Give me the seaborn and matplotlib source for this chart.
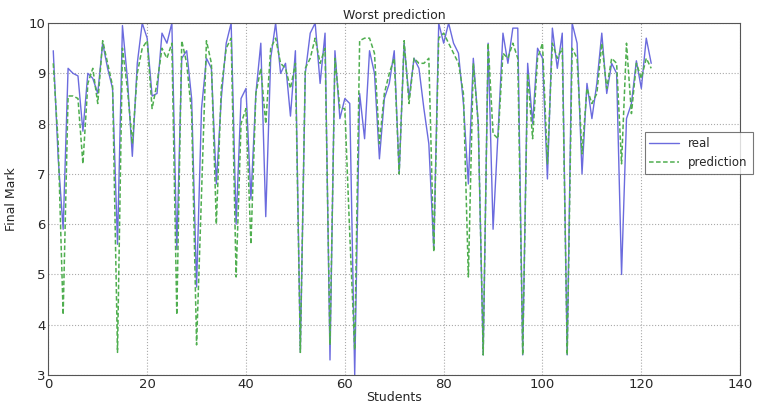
import numpy as np
import pandas as pd
import matplotlib
matplotlib.use("Agg")
import matplotlib.pyplot as plt
import seaborn as sns

# final marks per student
real = [9.45, 7.3, 5.9, 9.1, 9.0, 8.95, 7.85, 9.0, 8.9, 8.6,
        9.6, 9.1, 8.7, 5.6, 9.95, 8.9, 7.35, 9.2, 10.0, 9.7,
        8.55, 8.6, 9.8, 9.6, 10.0, 5.5, 9.3, 9.45, 8.5, 4.75,
        8.3, 9.3, 9.1, 6.8, 8.5, 9.6, 10.0, 6.0, 8.5, 8.7,
        6.5, 8.6, 9.6, 6.15, 9.3, 10.0, 9.0, 9.2, 8.15, 9.45,
        3.45, 9.0, 9.8, 10.0, 8.8, 9.8, 3.3, 9.45, 8.1, 8.5,
        8.4, 3.0, 8.6, 7.7, 9.45, 9.0, 7.3, 8.5, 8.8, 9.45,
        7.0, 9.6, 8.5, 9.3, 9.1, 8.3, 7.6, 5.5, 10.0, 9.6,
        10.0, 9.6, 9.4, 8.4, 6.8, 9.3, 8.0, 3.4, 9.6, 5.9,
        7.8, 9.8, 9.2, 9.9, 9.9, 3.4, 9.2, 8.0, 9.5, 9.3,
        6.9, 9.9, 9.1, 9.8, 3.4, 10.0, 9.6, 7.0, 8.8, 8.1,
        8.8, 9.8, 8.6, 9.2, 9.0, 5.0, 8.1, 8.4, 9.25, 8.7,
        9.7, 9.2]
prediction = [9.2, 7.6, 4.2, 8.55, 8.55, 8.5, 7.2, 8.8, 9.1, 8.4,
              9.65, 9.2, 8.75, 3.45, 9.5, 8.7, 7.6, 9.0, 9.5, 9.65,
              8.3, 8.8, 9.5, 9.3, 9.6, 4.2, 9.65, 9.2, 8.2, 3.6,
              6.6, 9.65, 9.2, 6.0, 8.7, 9.5, 9.7, 4.95, 8.0, 8.3,
              5.6, 8.6, 9.1, 8.0, 9.5, 9.7, 9.2, 9.1, 8.7, 9.2,
              3.45, 9.1, 9.3, 9.7, 9.2, 9.5, 3.6, 9.3, 8.3, 8.3,
              5.8, 3.5, 9.65, 9.7, 9.7, 9.4, 7.6, 8.6, 9.0, 9.3,
              7.0, 9.65, 8.4, 9.3, 9.2, 9.2, 9.3, 5.45, 9.7, 9.8,
              9.6, 9.4, 9.2, 8.6, 4.95, 9.2, 8.0, 3.4, 9.6, 7.8,
              7.7, 9.4, 9.3, 9.6, 9.3, 3.4, 9.0, 7.7, 9.3, 9.6,
              7.2, 9.6, 9.3, 9.5, 3.4, 9.5, 9.3, 7.4, 8.7, 8.4,
              8.6, 9.6, 8.7, 9.3, 9.2, 7.2, 9.6, 8.2, 9.2, 8.9,
              9.3, 9.1]
students = np.arange(1, len(real) + 1)

df = pd.DataFrame({"student": students, "real": real, "prediction": prediction})

sns.set_style("white")
plt.rcParams["font.family"] = ["DejaVu Sans"]

fig = plt.figure(figsize=(7.67, 4.05), dpi=100)
ax = fig.add_axes([0.063, 0.074, 0.902, 0.869])

sns.lineplot(data=df, x="student", y="real", ax=ax, color="#6b6bde", lw=1.0, label="real")
sns.lineplot(data=df, x="student", y="prediction", ax=ax, color="#4fae4f", lw=1.1,
             dashes=False, label="prediction")
ax.lines[1].set_dashes((3, 1.6))

ax.set_xlim(0, 140); ax.set_ylim(3, 10)
ax.set_xticks(range(0, 141, 20)); ax.set_yticks(range(3, 11))
ax.grid(True, linestyle=":", color="#aaaaaa", lw=0.8)
for s in ax.spines.values():
    s.set_visible(True); s.set_color("#555555"); s.set_linewidth(0.8)
ax.tick_params(direction="in", labelsize=9.5, length=3, pad=2)
ax.set_title("Worst prediction", fontsize=9, pad=3)
ax.set_xlabel("Students", fontsize=9, labelpad=0)
ax.set_ylabel("Final Mark", fontsize=9, labelpad=8)

leg = ax.legend(loc="upper left", bbox_to_anchor=(0.862, 0.69), fontsize=8.5,
                frameon=True, fancybox=False, borderaxespad=0, handlelength=2.5)
leg.get_frame().set_edgecolor("#555555")
leg.get_frame().set_linewidth(0.8)

fig.savefig("out.png", dpi=100)
